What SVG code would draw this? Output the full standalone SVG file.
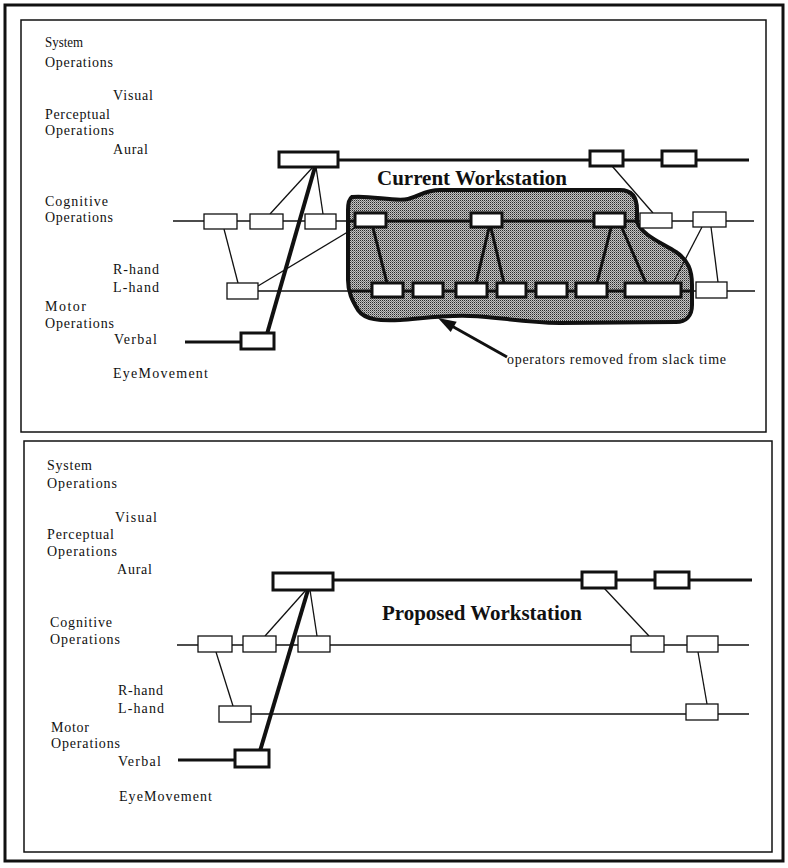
<svg xmlns="http://www.w3.org/2000/svg" width="788" height="868" viewBox="0 0 788 868">
<defs>
<pattern id="stip" width="2" height="2" patternUnits="userSpaceOnUse">
<rect width="2" height="2" fill="#c4c4c4"/>
<rect x="0" y="0" width="1" height="1" fill="#2a2a2a"/>
<rect x="1" y="1" width="1" height="1" fill="#7a7a7a"/>
</pattern>
<style>
.lbl{font-family:"Liberation Serif","Times New Roman",serif;font-size:14px;fill:#111}
.ttl{font-family:"Liberation Serif","Times New Roman",serif;font-size:20.7px;font-weight:bold;fill:#111}
.thin{stroke:#111;stroke-width:1.3;fill:none}
.thick{stroke:#111;stroke-width:3;fill:none}
.heavy{stroke:#111;stroke-width:4;fill:none}
.bx{fill:#fff;stroke:#111;stroke-width:1.3}
.bxk{fill:#fff;stroke:#111;stroke-width:3}
.frame{fill:none;stroke:#111;stroke-width:1.5}
</style>
</defs>
<rect width="788" height="868" fill="#fff"/>
<rect x="5" y="5" width="778" height="856" fill="none" stroke="#111" stroke-width="3"/>
<rect class="frame" x="21" y="20" width="745" height="412"/>
<rect class="frame" x="24" y="441" width="748" height="411"/>

<!-- TOP PANEL -->
<g id="top-labels">
<text class="lbl" x="45" y="47" textLength="38" lengthAdjust="spacingAndGlyphs">System</text>
<text class="lbl" x="45" y="67" textLength="68" lengthAdjust="spacing">Operations</text>
<text class="lbl" x="113" y="100" textLength="40" lengthAdjust="spacing">Visual</text>
<text class="lbl" x="45" y="119" textLength="65" lengthAdjust="spacing">Perceptual</text>
<text class="lbl" x="45" y="135" textLength="69" lengthAdjust="spacing">Operations</text>
<text class="lbl" x="113" y="154" textLength="35" lengthAdjust="spacing">Aural</text>
<text class="lbl" x="45" y="206" textLength="63" lengthAdjust="spacing">Cognitive</text>
<text class="lbl" x="45" y="222" textLength="68" lengthAdjust="spacing">Operations</text>
<text class="lbl" x="113" y="274" textLength="46" lengthAdjust="spacing">R-hand</text>
<text class="lbl" x="113" y="292" textLength="46" lengthAdjust="spacing">L-hand</text>
<text class="lbl" x="45" y="311" textLength="41" lengthAdjust="spacing">Motor</text>
<text class="lbl" x="45" y="328" textLength="69" lengthAdjust="spacing">Operations</text>
<text class="lbl" x="114" y="344" textLength="43" lengthAdjust="spacing">Verbal</text>
<text class="lbl" x="113" y="378" textLength="95" lengthAdjust="spacing">EyeMovement</text>
</g>

<g id="current-region">
<path d="M352,197 C370,195 395,202 408,199 C420,196 425,190 440,190 L620,190 C632,190 637,198 637,210 L637,222 C642,235 660,242 676,252 C688,260 692,270 692,285 L692,305 C692,316 686,322 676,322 L560,323 C520,322 500,317 470,316 C445,315 425,318 400,320 C380,321 365,320 358,310 C352,300 348,292 348,280 L348,210 C348,203 349,199 352,197 Z" fill="url(#stip)" stroke="#111" stroke-width="4"/>
</g>

<g id="connectors-top">
<line class="thick" x1="338" y1="160" x2="749" y2="160"/>
<line class="thin" x1="173" y1="221" x2="754" y2="221"/>
<line class="thick" x1="350" y1="221" x2="636" y2="221"/>
<line class="thin" x1="258" y1="291" x2="755" y2="291"/>
<line class="thick" x1="350" y1="291" x2="690" y2="291"/>
<line class="thick" x1="185" y1="342" x2="241" y2="342"/>
<line class="heavy" x1="315" y1="167" x2="267" y2="334"/>
<line class="thin" x1="313" y1="167" x2="270" y2="214"/>
<line class="thin" x1="316" y1="167" x2="323" y2="214"/>
<line class="thin" x1="224" y1="229" x2="238" y2="283"/>
<line class="thin" x1="258" y1="286" x2="356" y2="227"/>
<line class="thick" x1="373" y1="228" x2="387" y2="283"/>
<line class="thick" x1="489" y1="228" x2="476" y2="283"/>
<line class="thick" x1="491" y1="228" x2="504" y2="283"/>
<line class="thick" x1="611" y1="228" x2="597" y2="283"/>
<line class="thick" x1="622" y1="228" x2="646" y2="283"/>
<line class="thin" x1="612" y1="166" x2="653" y2="213"/>
<line class="thin" x1="702" y1="227" x2="673" y2="283"/>
<line class="thin" x1="711" y1="227" x2="718" y2="282"/>
<line x1="507" y1="357" x2="450" y2="325" stroke="#111" stroke-width="3"/>
<polygon points="438,318 450.7,332.1 456.7,321.7" fill="#111"/>
</g>

<g id="nodes-top">
<rect id="t-aural1" class="bxk" x="279" y="152" width="59" height="15"/>
<rect id="t-aural2" class="bxk" x="590" y="151" width="33" height="15"/>
<rect id="t-aural3" class="bxk" x="662" y="151" width="34" height="15"/>
<rect id="t-cog1" class="bx" x="204" y="214" width="33" height="15"/>
<rect id="t-cog2" class="bx" x="250" y="214" width="33" height="15"/>
<rect id="t-cog3" class="bx" x="305" y="214" width="31" height="15"/>
<rect id="t-cog4" class="bxk" x="355" y="213" width="31" height="14"/>
<rect id="t-cog5" class="bxk" x="471" y="213" width="31" height="14"/>
<rect id="t-cog6" class="bxk" x="594" y="213" width="31" height="14"/>
<rect id="t-cog7" class="bx" x="640" y="213" width="32" height="15"/>
<rect id="t-cog8" class="bx" x="693" y="212" width="33" height="15"/>
<rect id="t-lh1" class="bx" x="227" y="283" width="31" height="16"/>
<rect id="t-lh2" class="bxk" x="372" y="283" width="31" height="14"/>
<rect id="t-lh3" class="bxk" x="413" y="283" width="30" height="14"/>
<rect id="t-lh4" class="bxk" x="456" y="283" width="31" height="14"/>
<rect id="t-lh5" class="bxk" x="497" y="283" width="29" height="14"/>
<rect id="t-lh6" class="bxk" x="536" y="283" width="31" height="14"/>
<rect id="t-lh7" class="bxk" x="576" y="283" width="31" height="14"/>
<rect id="t-lh8" class="bxk" x="625" y="283" width="56" height="14"/>
<rect id="t-lh9" class="bx" x="696" y="282" width="31" height="16"/>
<rect id="t-verbal1" class="bxk" x="241" y="333" width="33" height="16"/>
</g>

<g id="top-title">
<text class="ttl" x="377" y="185" textLength="190" lengthAdjust="spacingAndGlyphs">Current Workstation</text>
<text class="lbl" x="507" y="364" textLength="219" lengthAdjust="spacing">operators removed from slack time</text>
</g>

<!-- BOTTOM PANEL -->
<g id="bottom-labels">
<text class="lbl" x="47" y="470" textLength="45" lengthAdjust="spacing">System</text>
<text class="lbl" x="47" y="488" textLength="70" lengthAdjust="spacing">Operations</text>
<text class="lbl" x="115" y="522" textLength="42" lengthAdjust="spacing">Visual</text>
<text class="lbl" x="47" y="539" textLength="67" lengthAdjust="spacing">Perceptual</text>
<text class="lbl" x="47" y="556" textLength="70" lengthAdjust="spacing">Operations</text>
<text class="lbl" x="117" y="574" textLength="35" lengthAdjust="spacing">Aural</text>
<text class="lbl" x="50" y="627" textLength="62" lengthAdjust="spacing">Cognitive</text>
<text class="lbl" x="50" y="644" textLength="70" lengthAdjust="spacing">Operations</text>
<text class="lbl" x="118" y="695" textLength="45" lengthAdjust="spacing">R-hand</text>
<text class="lbl" x="118" y="713" textLength="46" lengthAdjust="spacing">L-hand</text>
<text class="lbl" x="51" y="732" textLength="38" lengthAdjust="spacing">Motor</text>
<text class="lbl" x="51" y="748" textLength="69" lengthAdjust="spacing">Operations</text>
<text class="lbl" x="118" y="766" textLength="43" lengthAdjust="spacing">Verbal</text>
<text class="lbl" x="119" y="801" textLength="93" lengthAdjust="spacing">EyeMovement</text>
</g>

<g id="connectors-bottom">
<line class="thick" x1="333" y1="580" x2="752" y2="580"/>
<line class="thin" x1="177" y1="645" x2="749" y2="645"/>
<line class="thin" x1="251" y1="714" x2="749" y2="714"/>
<line class="thick" x1="178" y1="760" x2="235" y2="760"/>
<line class="heavy" x1="308" y1="590" x2="260" y2="751"/>
<line class="thin" x1="306" y1="590" x2="265" y2="636"/>
<line class="thin" x1="310" y1="590" x2="317" y2="636"/>
<line class="thin" x1="216" y1="652" x2="233" y2="706"/>
<line class="thin" x1="604" y1="588" x2="649" y2="636"/>
<line class="thin" x1="698" y1="652" x2="707" y2="704"/>
</g>

<g id="nodes-bottom">
<rect id="b-aural1" class="bxk" x="273" y="573" width="60" height="17"/>
<rect id="b-aural2" class="bxk" x="582" y="572" width="34" height="16"/>
<rect id="b-aural3" class="bxk" x="655" y="572" width="34" height="16"/>
<rect id="b-cog1" class="bx" x="198" y="636" width="34" height="16"/>
<rect id="b-cog2" class="bx" x="243" y="636" width="33" height="16"/>
<rect id="b-cog3" class="bx" x="298" y="636" width="32" height="16"/>
<rect id="b-cog4" class="bx" x="631" y="636" width="33" height="16"/>
<rect id="b-cog5" class="bx" x="687" y="636" width="31" height="16"/>
<rect id="b-lh1" class="bx" x="219" y="706" width="32" height="16"/>
<rect id="b-lh2" class="bx" x="686" y="704" width="32" height="16"/>
<rect id="b-verbal1" class="bxk" x="235" y="750" width="34" height="17"/>
</g>

<g id="bottom-title">
<text class="ttl" x="382" y="620" textLength="200" lengthAdjust="spacingAndGlyphs">Proposed Workstation</text>
</g>
</svg>
